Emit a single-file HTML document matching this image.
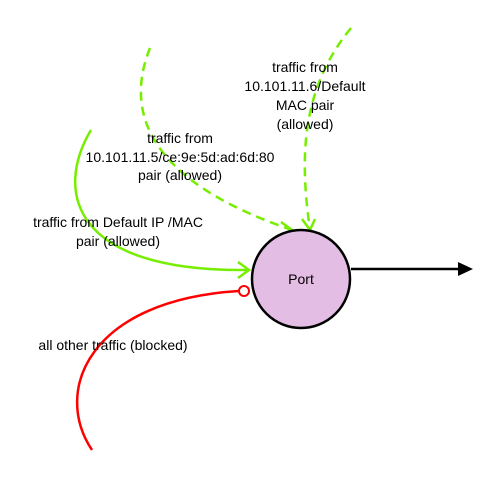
<!DOCTYPE html>
<html><head><style>body{margin:0;background:#fff}svg{display:block}text{font-family:"Liberation Sans",sans-serif;font-size:14px;fill:#000;text-anchor:middle}</style></head><body>
<svg width="501" height="481" viewBox="0 0 501 481">
<g fill="none" stroke-width="2.5">
<path d="M91,130 C55,190 70,272 248,270" stroke="#76ee00"/>
<path d="M238,262 L249,270 L238,278" stroke="#76ee00"/>
<path d="M150,48 C125,110 145,180 292,230" stroke="#76ee00" stroke-dasharray="9,6"/>
<path d="M281,222 L292,230 L283,234" stroke="#76ee00"/>
<path d="M351,28 C300,90 300,160 310,230" stroke="#76ee00" stroke-dasharray="9,6"/>
<path d="M302,219 L310,230 L315,219" stroke="#76ee00"/>
<path d="M92,450 C52,390 90,300 239,291" stroke="#f00"/>
<circle cx="244" cy="291" r="5" stroke="#f00" fill="#fff" stroke-width="2"/>
<line x1="351" y1="269" x2="460" y2="269" stroke="#000"/>
</g>
<polygon points="458,262 473,269 458,276" fill="#000"/>
<circle cx="301" cy="279" r="49" fill="#e4bde4" stroke="#000" stroke-width="2.5"/>
<text x="301" y="284">Port</text>
<text x="305" y="72">traffic from</text>
<text x="305" y="91">10.101.11.6/Default</text>
<text x="305" y="110">MAC pair</text>
<text x="305" y="129">(allowed)</text>
<text x="180" y="143">traffic from</text>
<text x="180" y="162">10.101.11.5/ce:9e:5d:ad:6d:80</text>
<text x="180" y="180">pair (allowed)</text>
<text x="118" y="227">traffic from Default IP /MAC</text>
<text x="118" y="246">pair (allowed)</text>
<text x="113" y="350">all other traffic (blocked)</text>
</svg>
</body></html>
